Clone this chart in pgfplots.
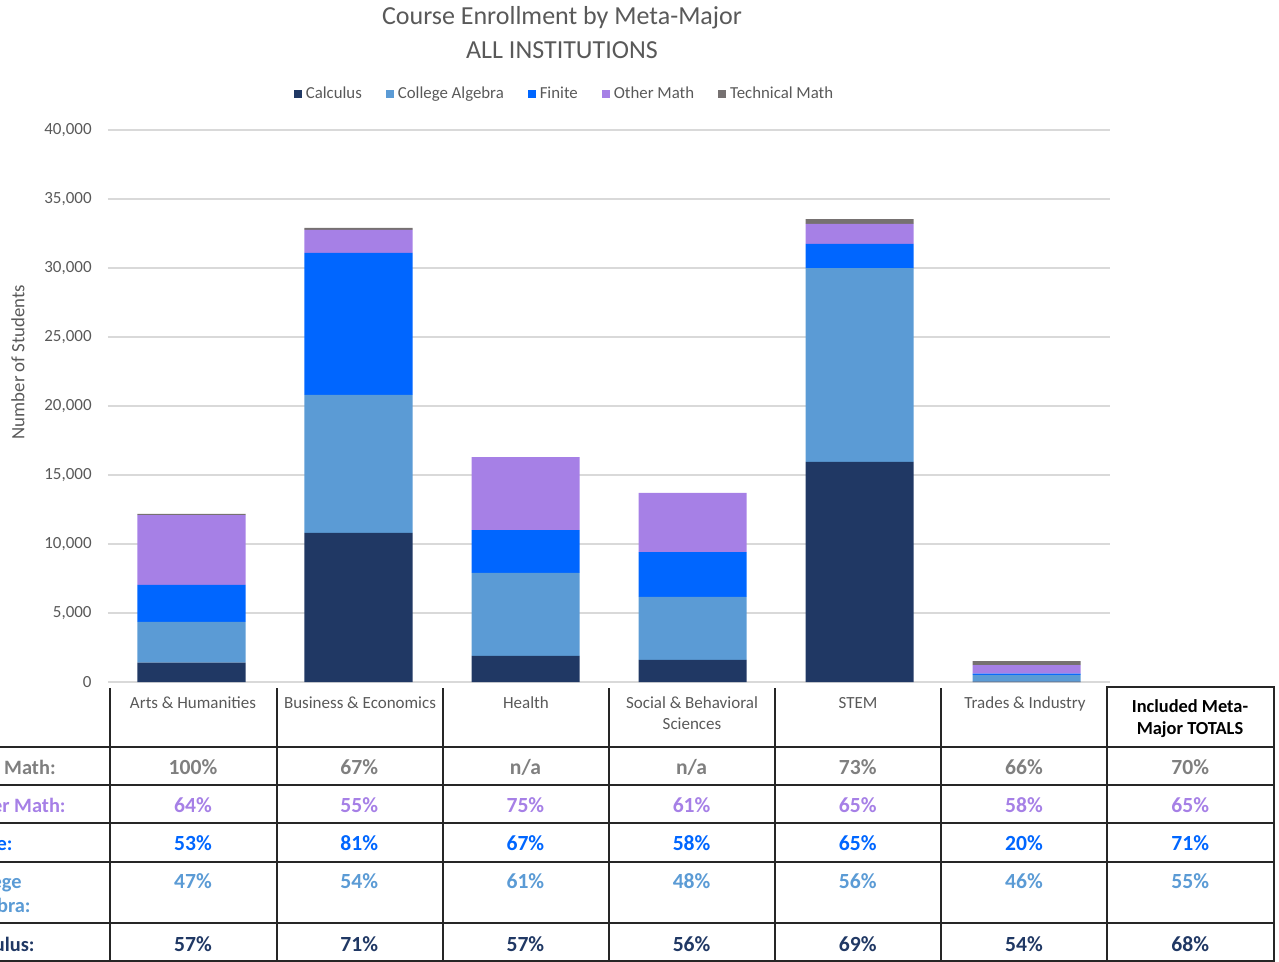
\documentclass[border=0pt]{standalone}
\usepackage{fontspec}
\setmainfont{Carlito}
\usepackage{pgfplots}
\pgfplotsset{compat=1.18}
\definecolor{calc}{HTML}{203864}
\definecolor{calg}{HTML}{5B9BD5}
\definecolor{fin}{HTML}{0066FF}
\definecolor{oth}{HTML}{A680E6}
\definecolor{tech}{HTML}{767171}
\definecolor{txt}{HTML}{595959}
\definecolor{gridc}{HTML}{D9D9D9}
\definecolor{techtxt}{HTML}{7F7F7F}
\begin{document}
\begin{tikzpicture}[x=0.5pt,y=-0.5pt]
\useasboundingbox (0,0) rectangle (1279,962);
\clip (0,0) rectangle (1279,962);
\coordinate (O) at (108,682);
\begin{axis}[
  at={(O)}, anchor=south west, scale only axis,
  width=501pt, height=276pt,
  ybar stacked, bar width=54pt,
  xmin=-0.5, xmax=5.5, ymin=0, ymax=40000,
  xtick=\empty, ytick={0,5000,...,40000},
  ymajorgrids, grid style={gridc, line width=0.6pt},
  axis line style={draw=none},
  major tick length=0pt,
  scaled y ticks=false,
  /pgf/number format/1000 sep={,},
  /pgf/number format/assume math mode=true,
  yticklabel style={font=\fontsize{8.5}{10}\selectfont, text=txt, anchor=east, inner sep=0pt, xshift=-8pt},
  legend image code/.code={\fill[#1] (0pt,-2pt) rectangle (4pt,2pt);},
  legend style={at={(0.4566,1.0652)}, anchor=center, draw=none, fill=none,
    legend columns=5, font=\fontsize{8.4}{10}\selectfont, text=txt,
    /tikz/every even column/.append style={column sep=10pt}},
]
\addplot[fill=calc, draw=none] coordinates {(0,1400) (1,10800) (2,1900) (3,1600) (4,15950) (5,30)};
\addplot[fill=calg, draw=none] coordinates {(0,2950) (1,10000) (2,6000) (3,4560) (4,14050) (5,480)};
\addplot[fill=fin, draw=none] coordinates {(0,2680) (1,10290) (2,3100) (3,3260) (4,1740) (5,100)};
\addplot[fill=oth, draw=none] coordinates {(0,5070) (1,1670) (2,5300) (3,4280) (4,1450) (5,620)};
\addplot[fill=tech, draw=none] coordinates {(0,80) (1,150) (2,0) (3,0) (4,360) (5,290)};
\legend{Calculus, College Algebra, Finite, Other Math, Technical Math}
\end{axis}
% titles
\node[text=txt, font=\fontsize{13}{15}\selectfont] at (562,18) {Course Enrollment by Meta-Major};
\node[text=txt, font=\fontsize{13}{15}\selectfont] at (562,50) {ALL INSTITUTIONS};
\node[text=txt, font=\fontsize{9.4}{11}\selectfont, rotate=90] at (18,362) {Number of Students};
% table lines
\begin{scope}[line width=0.9pt, draw=black!85]
\foreach \yy in {747,785,823,862,923,961} \draw (0,\yy) -- (1274,\yy);
\foreach \xx in {110,277,443,609,775,941} \draw (\xx,688) -- (\xx,962);
\draw (1107,962) -- (1107,687) -- (1274,687) -- (1274,962);
\end{scope}
% header labels
\begin{scope}[font=\fontsize{8.5}{10}\selectfont, text=txt]
\node[anchor=base] at (193,708) {Arts \& Humanities};
\node[anchor=base] at (360,708) {Business \& Economics};
\node[anchor=base] at (526,708) {Health};
\node[anchor=base] at (692,708) {Social \& Behavioral};
\node[anchor=base] at (692,729) {Sciences};
\node[anchor=base] at (858,708) {STEM};
\node[anchor=base] at (1025,708) {Trades \& Industry};
\end{scope}
\begin{scope}[font=\fontsize{9.2}{11}\selectfont\bfseries, text=black]
\node[anchor=base] at (1190,712) {Included Meta-};
\node[anchor=base] at (1190,734) {Major TOTALS};
\end{scope}
% row labels
\begin{scope}[font=\fontsize{10.2}{12}\selectfont\bfseries, inner sep=0pt]
\node[anchor=base east, text=techtxt] at (56,774) {Technical Math:};
\node[anchor=base east, text=oth] at (66,812) {Other Math:};
\node[anchor=base east, text=fin] at (13,850) {Finite:};
\node[anchor=base east, text=calg] at (22,888) {College};
\node[anchor=base east, text=calg] at (31,912) {Algebra:};
\node[anchor=base east, text=calc] at (35,951) {Calculus:};
\end{scope}
% values
\begin{scope}[font=\fontsize{10.8}{12}\selectfont\bfseries]
\foreach \v [count=\i from 0] in {100\%,67\%,n/a,n/a,73\%,66\%,70\%}
  \node[anchor=base, text=techtxt] at (193+166.2*\i,774) {\v};
\foreach \v [count=\i from 0] in {64\%,55\%,75\%,61\%,65\%,58\%,65\%}
  \node[anchor=base, text=oth] at (193+166.2*\i,812) {\v};
\foreach \v [count=\i from 0] in {53\%,81\%,67\%,58\%,65\%,20\%,71\%}
  \node[anchor=base, text=fin] at (193+166.2*\i,850) {\v};
\foreach \v [count=\i from 0] in {47\%,54\%,61\%,48\%,56\%,46\%,55\%}
  \node[anchor=base, text=calg] at (193+166.2*\i,888) {\v};
\foreach \v [count=\i from 0] in {57\%,71\%,57\%,56\%,69\%,54\%,68\%}
  \node[anchor=base, text=calc] at (193+166.2*\i,951) {\v};
\end{scope}
\end{tikzpicture}
\end{document}
